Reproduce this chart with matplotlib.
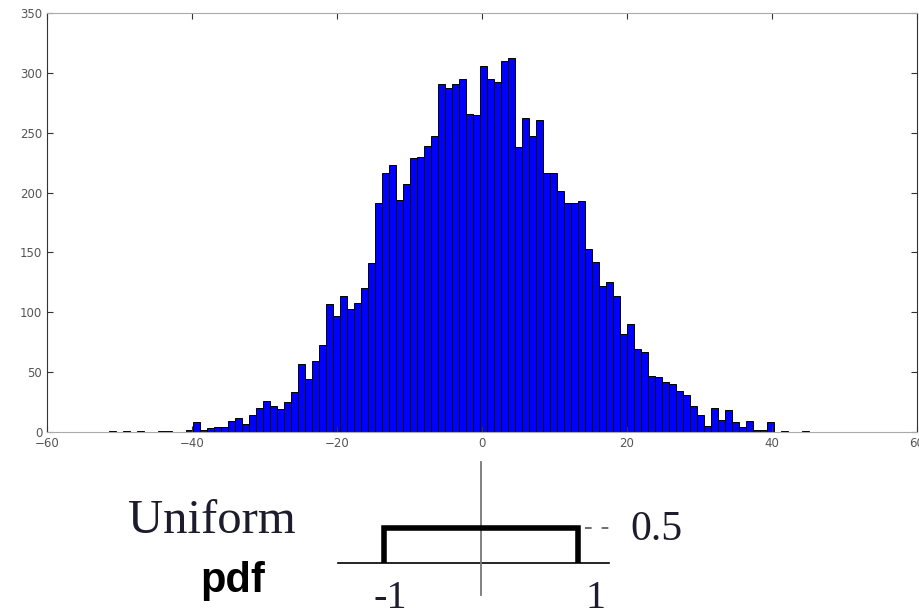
import numpy as np
import matplotlib
matplotlib.use("Agg")
import matplotlib.pyplot as plt

# histogram: 100 bins starting at -51.5, counts
hist_start = -51.5
bin_width = 0.966
counts = [1, 0, 1, 0, 1, 0, 0, 1, 1, 0,
          0, 2, 8, 2, 3, 4, 4, 9, 12, 7,
          14, 20, 26, 22, 19, 25, 33, 57, 44, 59,
          73, 107, 97, 114, 103, 108, 120, 141, 191, 216,
          223, 194, 207, 229, 230, 239, 247, 291, 287, 291,
          295, 266, 265, 306, 295, 292, 310, 312, 238, 262,
          247, 261, 216, 216, 201, 191, 191, 193, 153, 142,
          122, 125, 114, 82, 90, 69, 67, 47, 46, 42,
          40, 34, 31, 22, 14, 5, 20, 10, 18, 8,
          4, 9, 2, 2, 8, 0, 1, 0, 0, 1]
xticks = [-60, -40, -20, 0, 20, 40, 60]
yticks = [0, 50, 100, 150, 200, 250, 300, 350]

# uniform pdf sketch
pdf_lo, pdf_hi, pdf_h = -1, 1, 0.5

W, H = 919, 610
fig = plt.figure(figsize=(W / 100, H / 100), dpi=100)

# ---- histogram panel ----
ax = fig.add_axes([47 / W, 1 - 432 / H, 870 / W, 419 / H])
counts = np.array(counts)
lefts = hist_start + bin_width * np.arange(len(counts))
nz = counts > 0
ax.bar(lefts[nz], counts[nz], width=bin_width, align="edge",
       color="#0000ff", edgecolor="black", linewidth=0.7)
ax.set_xlim(-60, 60)
ax.set_ylim(0, 350)
ax.set_xticks(xticks)
ax.set_yticks(yticks)
ax.tick_params(direction="in", length=4, top=True, right=True,
               labelsize=8.5, labelcolor="#555555", color="#333333")
for side in ["top", "bottom"]:
    ax.spines[side].set_color("#aaaaaa")
for side in ["left", "right"]:
    ax.spines[side].set_color("#333333")

# ---- uniform pdf sketch ----
sx = 97.0    # px per unit in x
sy = 69.4    # px per unit in y
x0, y0 = 480.7, 562.7
bx = fig.add_axes([0, 0, 1, 170 / H])
bx.set_xlim((0 - x0) / sx, (W - x0) / sx)
bx.set_ylim((y0 - H) / sy, (y0 - 440) / sy)
bx.axis("off")

bx.plot([-1.47, 1.32], [0, 0], color="black", lw=1.2)
bx.plot([0, 0], [-0.465, 1.45], color="#777777", lw=1.3)
bx.plot([pdf_lo, pdf_lo, pdf_hi, pdf_hi], [0, pdf_h, pdf_h, 0],
        color="black", lw=4, solid_joinstyle="miter", solid_capstyle="butt")
bx.plot([1.08, 1.32], [pdf_h, pdf_h], color="#555555", lw=1.2,
        linestyle=(0, (4, 6)))

serif = "Liberation Serif"
tcol = "#1c1c2c"
bx.text(1.546, 0.47, "0.5", fontsize=30, family=serif, color=tcol,
        va="center", ha="left")
bx.text(-0.93, (y0 - 608) / sy, "-1", fontsize=29, family=serif, color=tcol,
        va="baseline", ha="center")
bx.text(1.186, (y0 - 608) / sy, "1", fontsize=29, family=serif, color=tcol,
        va="baseline", ha="center")

fig.text(128 / W, 1 - 533 / H, "Uniform", fontsize=35, family=serif,
         color=tcol, va="baseline", ha="left")
fig.text(200 / W, 1 - 592 / H, "pdf", fontsize=30, family="Liberation Sans",
         weight="bold", color="black", va="baseline", ha="left")

fig.savefig("out.png", dpi=100)
